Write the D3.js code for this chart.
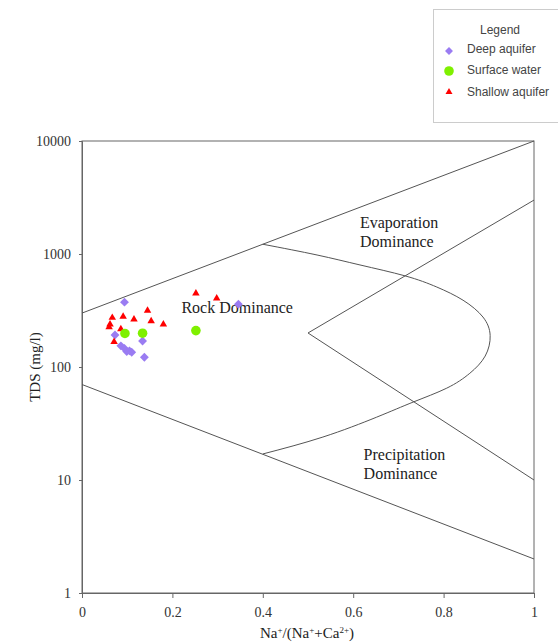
<!DOCTYPE html>
<html>
<head>
<meta charset="utf-8">
<script src="https://cdn.jsdelivr.net/npm/d3@7"></script>
<style>
  body { margin: 0; background: #fff; }
  svg { display: block; }
</style>
</head>
<body>
<svg id="chart" width="558" height="643"></svg>
<script>
// Axis ticks
const xTicks = [0, 0.2, 0.4, 0.6, 0.8, 1];
const yTicks = [1, 10, 100, 1000, 10000];

// Samples: Na+/(Na+ + Ca2+) ratio and TDS (mg/l)
const deepRatio = [0.094, 0.073, 0.086, 0.094, 0.099, 0.105, 0.110, 0.134, 0.138, 0.346];
const deepTDS   = [375, 192, 154, 146, 137, 139, 135, 170, 122, 359];

const surfaceRatio = [0.095, 0.134, 0.252];
const surfaceTDS   = [198, 199, 210];

const shallowRatio = [0.252, 0.298, 0.145, 0.067, 0.091, 0.115, 0.153, 0.180, 0.062, 0.060, 0.086, 0.071];
const shallowTDS   = [449, 405, 315, 273, 279, 264, 255, 239, 239, 225, 217, 167];

// Gibbs boundary lines
const upperEnvRatio = [0, 1];
const upperEnvTDS   = [300, 10000];
const lowerEnvRatio = [0, 1];
const lowerEnvTDS   = [70, 2];
const wedgeRatio = [1, 0.5, 1];
const wedgeTDS   = [3000, 200, 10];
const curveRatio = [0.40, 0.52, 0.615, 0.715, 0.785, 0.843, 0.887, 0.903, 0.892, 0.858, 0.807, 0.733, 0.652, 0.533, 0.40];
const curveTDS   = [1220, 980, 800, 640, 510, 390, 277, 190, 125, 88, 65, 49, 36, 24, 17];

const svg = d3.select("#chart");
const plotL = 82, plotR = 534, plotT = 141, plotB = 593;

const x = d3.scaleLinear().domain([0, 1]).range([plotL, plotR]);
const y = d3.scaleLog().domain([1, 10000]).range([plotB, plotT]);

const serif = "'Liberation Serif', 'Times New Roman', serif";
const lineCol = "#555";

// Frame
svg.append("rect")
  .attr("x", plotL).attr("y", plotT)
  .attr("width", plotR - plotL).attr("height", plotB - plotT)
  .attr("fill", "none").attr("stroke", "#666").attr("stroke-width", 1);

// Axes
const xAxis = d3.axisBottom(x).tickValues(xTicks).tickSize(5).tickPadding(9)
  .tickFormat(d => d === 0 || d === 1 ? String(d) : d3.format(".1f")(d));
const gx = svg.append("g").attr("transform", `translate(0,${plotB})`).call(xAxis);
const yAxis = d3.axisLeft(y).tickValues(yTicks).tickSize(3).tickPadding(8).tickFormat(d3.format("d"));
const gy = svg.append("g").attr("transform", `translate(${plotL},0)`).call(yAxis);
[gx, gy].forEach(g => {
  g.select(".domain").attr("stroke", "#666");
  g.selectAll(".tick line").attr("stroke", "#666");
  g.selectAll(".tick text").attr("font-family", serif).attr("font-size", 14).attr("fill", "#333");
});

// Boundary lines
const line = d3.line().x(d => x(d[0])).y(d => y(d[1]));
const pairs = (a, b) => a.map((v, i) => [v, b[i]]);
const g = svg.append("g").attr("fill", "none").attr("stroke", lineCol).attr("stroke-width", 1);
g.append("path").attr("d", line(pairs(upperEnvRatio, upperEnvTDS)));
g.append("path").attr("d", line(pairs(lowerEnvRatio, lowerEnvTDS)));
g.append("path").attr("d", line(pairs(wedgeRatio, wedgeTDS)));
g.append("path").attr("d", line.curve(d3.curveNatural)(pairs(curveRatio, curveTDS)));

// Region labels
const txt = svg.append("g").attr("font-family", serif).attr("font-size", 16).attr("fill", "#222");
txt.append("text").attr("x", x(0.22)).attr("y", y(300)).text("Rock Dominance");
const evap = txt.append("text").attr("x", x(0.615)).attr("y", y(1700));
evap.append("tspan").text("Evaporation");
evap.append("tspan").attr("x", x(0.615)).attr("dy", 19).text("Dominance");
const prec = txt.append("text").attr("x", x(0.623)).attr("y", y(15));
prec.append("tspan").text("Precipitation");
prec.append("tspan").attr("x", x(0.623)).attr("dy", 19).text("Dominance");

// Markers
const cDeep = "#9a7cf2", cSurf = "#7ff000", cShal = "#ff0000";
const diamond = d3.symbol().type(d3.symbolDiamond2).size(50);
const tri = d3.symbol().type(d3.symbolTriangle2).size(40);

svg.append("g").selectAll("path").data(pairs(deepRatio, deepTDS)).join("path")
  .attr("d", diamond).attr("fill", cDeep)
  .attr("transform", d => `translate(${x(d[0])},${y(d[1])})`);
svg.append("g").selectAll("path").data(pairs(shallowRatio, shallowTDS)).join("path")
  .attr("d", tri).attr("fill", cShal)
  .attr("transform", d => `translate(${x(d[0])},${y(d[1])})`);
svg.append("g").selectAll("circle").data(pairs(surfaceRatio, surfaceTDS)).join("circle")
  .attr("cx", d => x(d[0])).attr("cy", d => y(d[1])).attr("r", 4.8).attr("fill", cSurf);

// Axis titles
svg.append("text")
  .attr("transform", `translate(40,367) rotate(-90)`)
  .attr("text-anchor", "middle")
  .attr("font-family", serif).attr("font-size", 15).attr("fill", "#222")
  .text("TDS (mg/l)");
const xt = svg.append("text")
  .attr("x", 307).attr("y", 638).attr("text-anchor", "middle")
  .attr("font-family", serif).attr("font-size", 15).attr("fill", "#222");
xt.append("tspan").text("Na");
xt.append("tspan").attr("dy", -5).attr("font-size", 9).text("+");
xt.append("tspan").attr("dy", 5).text("/(Na");
xt.append("tspan").attr("dy", -5).attr("font-size", 9).text("+");
xt.append("tspan").attr("dy", 5).text("+Ca");
xt.append("tspan").attr("dy", -5).attr("font-size", 9).text("2+");
xt.append("tspan").attr("dy", 5).text(")");

// Legend
const lg = svg.append("g").attr("font-family", "'Liberation Sans', Arial, sans-serif").attr("fill", "#444");
lg.append("rect").attr("x", 433.5).attr("y", 9.5).attr("width", 140).attr("height", 113)
  .attr("fill", "#fff").attr("stroke", "#ccc");
lg.append("text").attr("x", 500).attr("y", 34).attr("text-anchor", "middle").attr("font-size", 12).text("Legend");
const legendItems = ["Deep aquifer", "Surface water", "Shallow aquifer"];
const legendY = [49, 70, 92];
legendItems.forEach((name, i) => {
  lg.append("text").attr("x", 467).attr("y", legendY[i] + 4).attr("font-size", 12).text(name);
});
lg.append("path").attr("d", diamond.size(40)()).attr("fill", cDeep).attr("transform", `translate(449,${legendY[0] + 2})`);
lg.append("circle").attr("cx", 449).attr("cy", legendY[1] + 1).attr("r", 4.8).attr("fill", cSurf);
lg.append("path").attr("d", tri.size(35)()).attr("fill", cShal).attr("transform", `translate(449,${legendY[2]})`);
</script>
</body>
</html>
